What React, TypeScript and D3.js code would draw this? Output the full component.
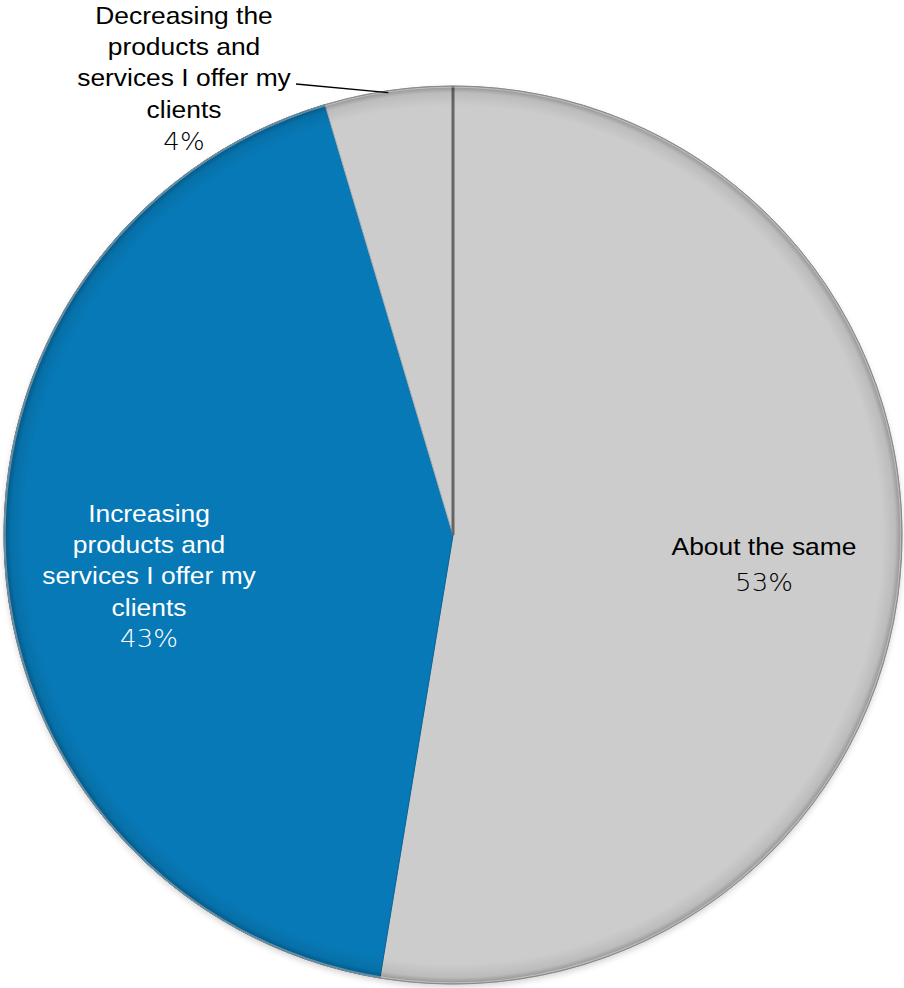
import React from "react";
import * as d3 from "d3";

const categories = [
  "About the same",
  "Increasing products and services I offer my clients",
  "Decreasing the products and services I offer my clients",
];
const values = [52.6, 42.8, 4.6];
const percentLabels = ["53%", "43%", "4%"];
const labelLines = [
  ["About the same"],
  ["Increasing", "products and", "services I offer my", "clients"],
  ["Decreasing the", "products and", "services I offer my", "clients"],
];
const sliceColors = ["#cccccc", "#0779b6", "#cccccc"];
const textColors = ["#000000", "#ffffff", "#000000"];

const W = 904;
const H = 988;
const CX = 453;
const CY = 535;
const R = 449;

// label layout: center x, first baseline y
const labelLayout = [
  { x: 764, y: 555, pctY: 591 },
  { x: 149, y: 522, pctY: 647 },
  { x: 184, y: 24, pctY: 150 },
];
const LINE = 31.2;

export default function App() {
  const pie = d3
    .pie<number>()
    .sort(null)
    .value((d) => d)
    .startAngle(0)
    .endAngle(2 * Math.PI);
  const arcs = pie(values);
  const arc = d3.arc<d3.PieArcDatum<number>>().innerRadius(0).outerRadius(R);

  // leader line for the small slice
  const small = arcs[2];
  const la = small.startAngle + (small.endAngle - small.startAngle) * 0.5;
  const lx = CX + R * Math.sin(la);
  const ly = CY - R * Math.cos(la);

  return (
    <svg
      width={W}
      height={H}
      style={{ position: "absolute", left: 0, top: 0, background: "#fff" }}
    >
      <defs>
        <radialGradient id="edge" cx={CX} cy={CY} r={R} gradientUnits="userSpaceOnUse">
          <stop offset="0" stopColor="#000" stopOpacity="0" />
          <stop offset="0.955" stopColor="#000" stopOpacity="0" />
          <stop offset="0.985" stopColor="#000" stopOpacity="0.08" />
          <stop offset="1" stopColor="#000" stopOpacity="0.3" />
        </radialGradient>
        <filter id="blur" x="-10%" y="-10%" width="120%" height="120%">
          <feGaussianBlur stdDeviation="3" />
        </filter>
      </defs>
      <circle cx={CX} cy={CY + 3} r={R} fill="#000" opacity={0.18} filter="url(#blur)" />
      <g transform={`translate(${CX},${CY})`}>
        {arcs.map((a, i) => (
          <path
            key={categories[i]}
            d={arc(a) || ""}
            fill={sliceColors[i]}
            stroke={i === 1 ? "#06649a" : "#b0b0b0"}
            strokeWidth={1}
            strokeLinejoin="round"
          />
        ))}
        {/* dark separator line at 12 o'clock */}
        <line x1={0} y1={0} x2={0} y2={-R} stroke="#666666" strokeWidth={3} />
      </g>
      <circle cx={CX} cy={CY} r={R} fill="url(#edge)" />
      <circle cx={CX} cy={CY} r={R - 1} fill="none" stroke="#fff" strokeOpacity={0.35} strokeWidth={1.5} />
      <circle cx={CX} cy={CY} r={R} fill="none" stroke="#8a8a8a" strokeWidth={1} />

      <line x1={296} y1={84} x2={lx} y2={ly + 2} stroke="#000" strokeWidth={1.3} />

      {arcs.map((a, i) => {
        const L = labelLayout[i];
        return (
          <g key={"lab" + i} fill={textColors[i]}>
            {labelLines[i].map((t, j) => (
              <text
                key={j}
                transform={`translate(${L.x},${L.y + j * LINE}) scale(1.1,1)`}
                textAnchor="middle"
                fontFamily="'Liberation Sans', Arial, sans-serif"
                fontSize={24}
              >
                {t}
              </text>
            ))}
            <text
              transform={`translate(${L.x},${L.pctY}) scale(1.04,1)`}
              textAnchor="middle"
              fontFamily="'DejaVu Sans', Verdana, sans-serif"
              fontSize={25}
              fontWeight={300}
            >
              {percentLabels[i]}
            </text>
          </g>
        );
      })}
    </svg>
  );
}
